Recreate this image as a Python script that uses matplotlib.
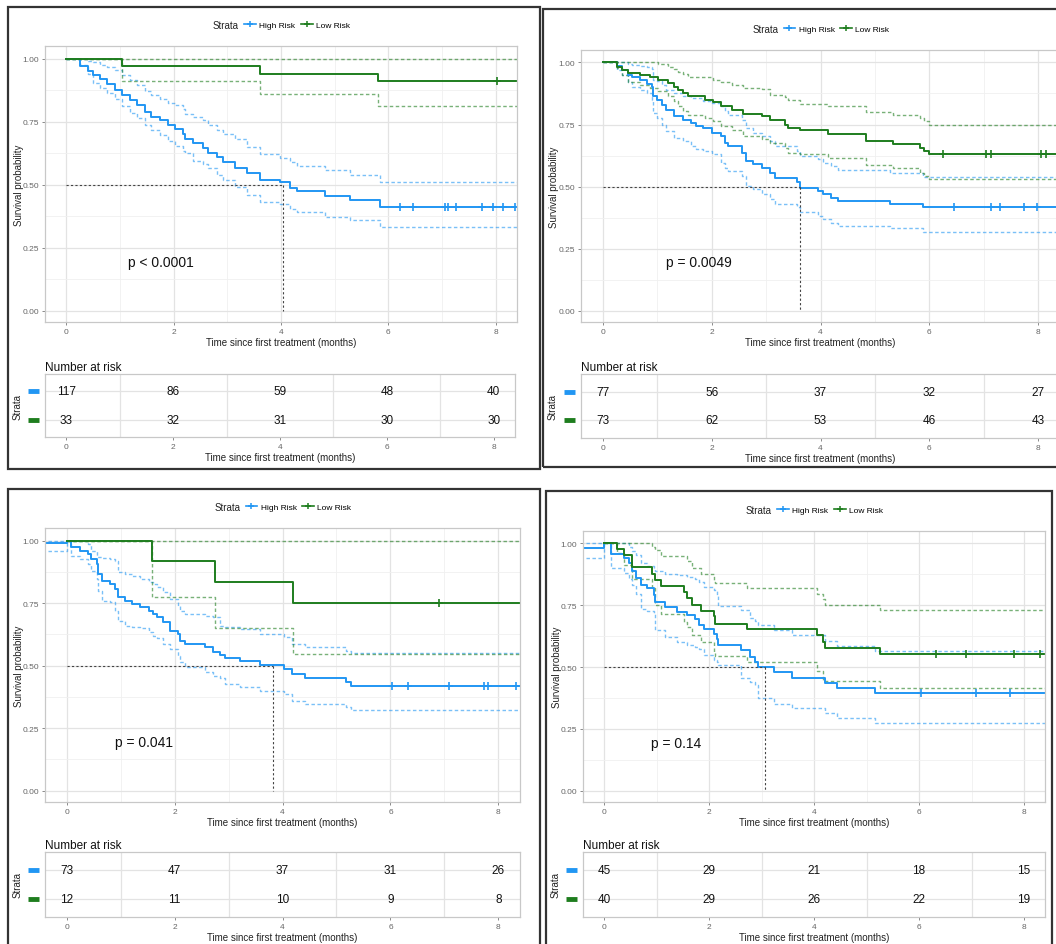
import numpy as np
import matplotlib.pyplot as plt
from matplotlib.lines import Line2D
from matplotlib.patches import Rectangle
from matplotlib.ticker import MultipleLocator

plt.rcParams['font.family'] = ['Liberation Sans', 'DejaVu Sans']

BLUE = '#2196F3'
GREEN = '#1E7D1E'
W, H = 1056, 945

# ---- Panel A ----
a_hi_t = [0, 0.25, 0.40, 0.50, 0.62, 0.75, 0.90, 1.03, 1.18, 1.31, 1.46, 1.58, 1.74, 1.90, 2.02, 2.18,
          2.21, 2.36, 2.55, 2.64, 2.80, 2.92, 3.14, 3.36, 3.60, 3.98, 4.16, 4.29, 4.82, 5.28, 5.84]
a_hi_s = [1.0, 0.97, 0.95, 0.935, 0.92, 0.90, 0.875, 0.855, 0.835, 0.815, 0.79, 0.77, 0.755, 0.735, 0.72, 0.70,
          0.68, 0.665, 0.645, 0.625, 0.61, 0.59, 0.565, 0.545, 0.52, 0.51, 0.485, 0.475, 0.455, 0.44, 0.41]
a_hi_up = [1.0, 1.0, 0.99, 0.985, 0.975, 0.965, 0.955, 0.935, 0.915, 0.895, 0.87, 0.855, 0.84, 0.825, 0.815, 0.80,
           0.78, 0.77, 0.755, 0.735, 0.715, 0.70, 0.68, 0.65, 0.62, 0.605, 0.59, 0.575, 0.557, 0.54, 0.51]
a_hi_lo = [1.0, 0.975, 0.94, 0.905, 0.885, 0.865, 0.84, 0.81, 0.785, 0.765, 0.735, 0.715, 0.695, 0.675, 0.655, 0.635,
           0.625, 0.595, 0.58, 0.565, 0.537, 0.52, 0.49, 0.458, 0.432, 0.425, 0.405, 0.392, 0.372, 0.36, 0.333]
a_hi_cens = [6.22, 6.46, 7.05, 7.12, 7.27, 7.74, 7.96, 8.14, 8.36]
a_lo_t = [0, 1.03, 3.60, 5.81]
a_lo_s = [1.0, 0.97, 0.94, 0.91]
a_lo_up = [1.0, 1.0, 1.0, 1.0]
a_lo_lo = [1.0, 0.91, 0.86, 0.81]
a_lo_cens = [8.03]
a_median = 4.03
a_risk_hi = [117, 86, 59, 48, 40]
a_risk_lo = [33, 32, 31, 30, 30]

# ---- Panel B ----
b_hi_t = [0, 0.26, 0.35, 0.47, 0.53, 0.68, 0.81, 0.90, 0.93, 0.99, 1.08, 1.17, 1.30, 1.48, 1.63, 1.72, 1.85, 2.00,
          2.18, 2.24, 2.30, 2.55, 2.64, 2.76, 2.92, 3.07, 3.16, 3.56, 3.62, 3.95, 4.05, 4.20, 4.32, 5.27, 5.88]
b_hi_s = [1.0, 0.985, 0.97, 0.95, 0.94, 0.93, 0.915, 0.90, 0.863, 0.85, 0.83, 0.81, 0.783, 0.77, 0.756, 0.745, 0.736,
          0.716, 0.703, 0.676, 0.663, 0.636, 0.603, 0.59, 0.576, 0.556, 0.533, 0.52, 0.493, 0.483, 0.47, 0.456, 0.443,
          0.43, 0.416]
b_hi_up = [1.0, 1.0, 1.0, 0.995, 0.99, 0.985, 0.98, 0.975, 0.93, 0.925, 0.91, 0.89, 0.876, 0.863, 0.858, 0.856, 0.845,
           0.836, 0.823, 0.803, 0.79, 0.77, 0.736, 0.716, 0.703, 0.683, 0.663, 0.643, 0.623, 0.61, 0.596, 0.583, 0.567,
           0.553, 0.54]
b_hi_lo = [1.0, 0.97, 0.95, 0.923, 0.903, 0.89, 0.876, 0.85, 0.796, 0.776, 0.75, 0.723, 0.696, 0.683, 0.663, 0.65,
           0.643, 0.63, 0.596, 0.575, 0.563, 0.543, 0.503, 0.49, 0.47, 0.45, 0.43, 0.416, 0.396, 0.383, 0.37, 0.353,
           0.343, 0.332, 0.318]
b_hi_cens = [6.46, 7.13, 7.29, 7.74, 7.97]
b_lo_t = [0, 0.26, 0.35, 0.47, 0.68, 0.87, 1.02, 1.20, 1.30, 1.39, 1.48, 1.57, 1.88, 2.03, 2.18, 2.37, 2.58, 2.92,
          3.07, 3.34, 3.40, 3.62, 4.14, 4.84, 5.33, 5.82, 5.91, 6.00]
b_lo_s = [1.0, 0.983, 0.97, 0.958, 0.95, 0.94, 0.93, 0.916, 0.903, 0.89, 0.876, 0.863, 0.85, 0.84, 0.825, 0.81,
          0.793, 0.783, 0.77, 0.75, 0.736, 0.727, 0.713, 0.685, 0.673, 0.656, 0.643, 0.63]
b_lo_up = [1.0, 1.0, 1.0, 1.0, 1.0, 1.0, 0.993, 0.983, 0.975, 0.963, 0.953, 0.943, 0.94, 0.93, 0.92, 0.91, 0.896,
           0.892, 0.87, 0.86, 0.85, 0.833, 0.823, 0.80, 0.79, 0.776, 0.763, 0.75]
b_lo_lo = [1.0, 0.976, 0.95, 0.923, 0.91, 0.896, 0.883, 0.863, 0.843, 0.823, 0.803, 0.79, 0.776, 0.763, 0.745, 0.727,
           0.705, 0.69, 0.676, 0.656, 0.636, 0.63, 0.616, 0.587, 0.573, 0.556, 0.543, 0.53]
b_lo_cens = [6.25, 7.04, 7.13, 8.05, 8.14]
b_median = 3.63
b_risk_hi = [77, 56, 37, 32, 27]
b_risk_lo = [73, 62, 53, 46, 43]

# ---- Panel C ----
c_hi_t = [-0.45, 0, 0.09, 0.25, 0.40, 0.46, 0.56, 0.59, 0.65, 0.80, 0.90, 0.96, 1.08, 1.21, 1.36, 1.52, 1.61, 1.67,
          1.79, 1.92, 2.07, 2.10, 2.20, 2.57, 2.72, 2.85, 2.94, 3.22, 3.59, 4.02, 4.18, 4.42, 5.17, 5.26]
c_hi_s = [0.99, 1.0, 0.973, 0.96, 0.947, 0.927, 0.907, 0.867, 0.84, 0.827, 0.807, 0.773, 0.76, 0.747, 0.733, 0.72,
          0.707, 0.693, 0.673, 0.64, 0.627, 0.60, 0.587, 0.573, 0.553, 0.544, 0.53, 0.52, 0.503, 0.487, 0.467, 0.45,
          0.433, 0.42]
c_hi_up = [1.0, 1.0, 1.0, 1.0, 0.987, 0.96, 0.933, 0.933, 0.93, 0.925, 0.92, 0.873, 0.865, 0.86, 0.847, 0.835, 0.827,
           0.815, 0.793, 0.767, 0.74, 0.72, 0.707, 0.70, 0.693, 0.66, 0.655, 0.647, 0.627, 0.613, 0.587, 0.573, 0.56,
           0.55]
c_hi_lo = [0.96, 1.0, 0.94, 0.927, 0.907, 0.88, 0.847, 0.80, 0.76, 0.753, 0.72, 0.68, 0.66, 0.655, 0.65, 0.633, 0.62,
           0.61, 0.587, 0.567, 0.54, 0.513, 0.493, 0.473, 0.46, 0.45, 0.427, 0.413, 0.40, 0.387, 0.36, 0.347, 0.333,
           0.323]
c_hi_cens = [6.03, 6.32, 7.09, 7.74, 7.81, 8.32]
c_lo_t = [0, 1.58, 2.75, 4.20]
c_lo_s = [1.0, 0.917, 0.833, 0.75]
c_lo_up = [1.0, 1.0, 1.0, 1.0]
c_lo_lo = [1.0, 0.775, 0.65, 0.545]
c_lo_cens = [6.90]
c_median = 3.82
c_risk_hi = [73, 47, 37, 31, 26]
c_risk_lo = [12, 11, 10, 9, 8]

# ---- Panel D ----
d_hi_t = [-0.45, 0, 0.13, 0.38, 0.47, 0.54, 0.60, 0.70, 0.82, 0.95, 0.98, 1.17, 1.39, 1.58, 1.74, 1.80, 1.90, 2.09,
          2.15, 2.18, 2.60, 2.79, 2.88, 2.94, 3.23, 3.58, 4.21, 4.43, 5.16]
d_hi_s = [0.98, 1.0, 0.957, 0.94, 0.92, 0.89, 0.86, 0.83, 0.82, 0.79, 0.764, 0.743, 0.723, 0.71, 0.696, 0.669, 0.655,
          0.635, 0.615, 0.59, 0.568, 0.54, 0.52, 0.50, 0.48, 0.457, 0.436, 0.415, 0.395]
d_hi_up = [1.0, 1.0, 1.0, 1.0, 0.986, 0.97, 0.953, 0.919, 0.91, 0.899, 0.89, 0.878, 0.872, 0.865, 0.858, 0.845, 0.824,
           0.81, 0.786, 0.747, 0.73, 0.70, 0.685, 0.669, 0.649, 0.628, 0.604, 0.584, 0.564]
d_hi_lo = [0.94, 1.0, 0.899, 0.88, 0.858, 0.831, 0.797, 0.736, 0.725, 0.716, 0.649, 0.622, 0.60, 0.588, 0.58, 0.574,
           0.547, 0.53, 0.52, 0.507, 0.455, 0.44, 0.426, 0.374, 0.351, 0.334, 0.314, 0.293, 0.273]
d_hi_cens = [6.04, 7.09, 7.73]
d_lo_t = [0, 0.24, 0.38, 0.54, 0.92, 0.98, 1.08, 1.52, 1.58, 1.68, 1.84, 2.09, 2.12, 2.72, 4.05, 4.18, 4.21, 5.26]
d_lo_s = [1.0, 0.977, 0.953, 0.905, 0.878, 0.851, 0.828, 0.804, 0.78, 0.753, 0.727, 0.707, 0.676, 0.653, 0.628, 0.60,
          0.577, 0.551]
d_lo_up = [1.0, 1.0, 1.0, 1.0, 0.986, 0.975, 0.95, 0.95, 0.93, 0.899, 0.878, 0.845, 0.838, 0.818, 0.797, 0.775, 0.75,
           0.73]
d_lo_lo = [1.0, 0.96, 0.912, 0.858, 0.818, 0.75, 0.716, 0.682, 0.662, 0.628, 0.601, 0.561, 0.545, 0.52, 0.486, 0.446,
           0.442, 0.415]
d_lo_cens = [6.33, 6.89, 7.80, 8.30]
d_median = 3.07
d_risk_hi = [45, 29, 21, 18, 15]
d_risk_lo = [40, 29, 26, 22, 19]

p_labels = ['p < 0.0001', 'p = 0.0049', 'p = 0.041', 'p = 0.14']
p_x = [1.15, 1.16, 0.90, 0.90]
risk_times = [0, 2, 4, 6, 8]
T_END = 8.4


def frect(l, t, r, b):
    return [l / W, 1 - b / H, (r - l) / W, (b - t) / H]


def extend(t, v):
    return list(t) + [T_END + 0.1], list(v) + [v[-1]]


def at(t, v, x):
    i = np.searchsorted(t, x, side='right') - 1
    return np.array(v)[i]


def style_axes(ax):
    ax.set_facecolor('white')
    for sp in ax.spines.values():
        sp.set_color('#C8C8C8')
        sp.set_linewidth(0.9)
    ax.tick_params(axis='both', which='major', length=2.5, width=0.6, color='#777777',
                   labelsize=6, labelcolor='#666666', pad=1.5)
    ax.tick_params(axis='both', which='minor', length=0)


def draw_panel(box, plot, table, groups, median, risk, ptxt, px):
    l, t, r, b = box
    fig.add_artist(Rectangle((l / W, 1 - b / H), (r - l) / W, (b - t) / H, transform=fig.transFigure,
                             fill=False, lw=1.6, ec='#333333', zorder=10))

    ax = fig.add_axes(frect(*plot))
    style_axes(ax)
    ax.set_xlim(-0.4, 8.4)
    ax.set_ylim(-0.045, 1.05)
    ax.xaxis.set_major_locator(MultipleLocator(2))
    ax.xaxis.set_minor_locator(MultipleLocator(1))
    ax.yaxis.set_minor_locator(MultipleLocator(0.125))
    ax.set_yticks([0, 0.25, 0.5, 0.75, 1.0])
    ax.set_yticklabels(['0.00', '0.25', '0.50', '0.75', '1.00'])
    ax.grid(True, which='major', color='#E3E3E3', lw=0.9)
    ax.grid(True, which='minor', color='#F0F0F0', lw=0.6)
    ax.set_axisbelow(True)

    for (tt, s, up, lo, cens, col) in groups:
        for ci in (up, lo):
            x, y = extend(tt, ci)
            ax.step(x, y, where='post', color=col, lw=1.0, alpha=0.6, linestyle=(0, (2.5, 1.8)))
    for (tt, s, up, lo, cens, col) in groups:
        x, y = extend(tt, s)
        ax.step(x, y, where='post', color=col, lw=1.4)
        ax.plot(cens, at(tt, s, np.array(cens)), '+', color=col, ms=6, mew=1.2)

    ax.plot([0, median], [0.5, 0.5], color='#444444', lw=0.8, linestyle=(0, (2, 2)))
    ax.plot([median, median], [0.5, 0], color='#444444', lw=0.8, linestyle=(0, (2, 2)))
    ax.text(px, 0.195, ptxt, fontsize=10, ha='left', va='center', color='#111111')

    pw = plot[2] - plot[0]
    ph = plot[3] - plot[1]
    ax.set_ylabel('Survival probability', fontsize=7, color='#222222')
    ax.yaxis.set_label_coords((l + 16 - plot[0]) / pw, 0.5)
    ax.set_xlabel('Time since first treatment (months)', fontsize=7, color='#222222')
    ax.xaxis.set_label_coords(0.5, -(338 - 323) / ph)

    # legend
    cx = ((plot[0] + plot[2]) / 2 - plot[0]) / pw
    handles = [Line2D([], [], color=BLUE, marker='+', lw=1.2, ms=5, mew=1.1),
               Line2D([], [], color=GREEN, marker='+', lw=1.2, ms=5, mew=1.1)]
    ax.legend(handles, ['High Risk', 'Low Risk'], ncol=2, loc='center',
              bbox_to_anchor=(cx + 16 / pw, 1 + 21 / ph), frameon=False, fontsize=6,
              handlelength=1.4, handletextpad=0.4, columnspacing=0.7, borderaxespad=0)
    ax.text(cx - 42 / pw, 1 + 21 / ph, 'Strata', transform=ax.transAxes, fontsize=7,
            ha='right', va='center', color='#222222')

    # risk table
    tb = fig.add_axes(frect(*table))
    style_axes(tb)
    tb.set_xlim(-0.4, 8.4)
    tb.set_ylim(0.38, 2.62)
    tb.set_xticks(risk_times)
    tb.set_yticks([1, 2])
    tb.set_yticklabels([])
    tb.tick_params(axis='y', length=0)
    for xv in [1, 3, 5, 7]:
        tb.axvline(xv, color='#E3E3E3', lw=0.9, zorder=0)
    for yv in [1, 2]:
        tb.axhline(yv, color='#E3E3E3', lw=0.9, zorder=0)
    hi_n, lo_n = risk
    for xv, n in zip(risk_times, hi_n):
        tb.text(xv, 2, str(n), ha='center', va='center', fontsize=8.5, color='#111111')
    for xv, n in zip(risk_times, lo_n):
        tb.text(xv, 1, str(n), ha='center', va='center', fontsize=8.5, color='#111111')
    tw = table[2] - table[0]
    th = table[3] - table[1]
    trans = tb.get_yaxis_transform()
    tb.plot([-17 / tw, -6 / tw], [2, 2], color=BLUE, lw=3.5, transform=trans, clip_on=False,
            solid_capstyle='butt')
    tb.plot([-17 / tw, -6 / tw], [1, 1], color=GREEN, lw=3.5, transform=trans, clip_on=False,
            solid_capstyle='butt')
    tb.set_ylabel('Strata', fontsize=7, color='#222222')
    tb.yaxis.set_label_coords((l + 15 - table[0]) / tw, 0.5)
    tb.set_xlabel('Time since first treatment (months)', fontsize=7, color='#222222')
    tb.xaxis.set_label_coords(0.5, -(453 - 438) / th)
    tb.set_title('Number at risk', loc='left', fontsize=8.5, pad=3, color='#111111')


fig = plt.figure(figsize=(W / 100, H / 100), dpi=100)

draw_panel((8, 8, 540, 470), (45, 47, 517, 323), (45, 375, 515, 438),
           [(a_hi_t, a_hi_s, a_hi_up, a_hi_lo, a_hi_cens, BLUE),
            (a_lo_t, a_lo_s, a_lo_up, a_lo_lo, a_lo_cens, GREEN)],
           a_median, (a_risk_hi, a_risk_lo), p_labels[0], p_x[0])
draw_panel((543, 10, 1062, 468), (581, 51, 1060, 323), (581, 375, 1060, 439),
           [(b_hi_t, b_hi_s, b_hi_up, b_hi_lo, b_hi_cens, BLUE),
            (b_lo_t, b_lo_s, b_lo_up, b_lo_lo, b_lo_cens, GREEN)],
           b_median, (b_risk_hi, b_risk_lo), p_labels[1], p_x[1])
draw_panel((8, 490, 540, 950), (45, 529, 520, 803), (45, 853, 520, 918),
           [(c_hi_t, c_hi_s, c_hi_up, c_hi_lo, c_hi_cens, BLUE),
            (c_lo_t, c_lo_s, c_lo_up, c_lo_lo, c_lo_cens, GREEN)],
           c_median, (c_risk_hi, c_risk_lo), p_labels[2], p_x[2])
draw_panel((546, 492, 1052, 950), (583, 532, 1045, 803), (583, 853, 1045, 918),
           [(d_hi_t, d_hi_s, d_hi_up, d_hi_lo, d_hi_cens, BLUE),
            (d_lo_t, d_lo_s, d_lo_up, d_lo_lo, d_lo_cens, GREEN)],
           d_median, (d_risk_hi, d_risk_lo), p_labels[3], p_x[3])

fig.savefig('out.png', dpi=100)
